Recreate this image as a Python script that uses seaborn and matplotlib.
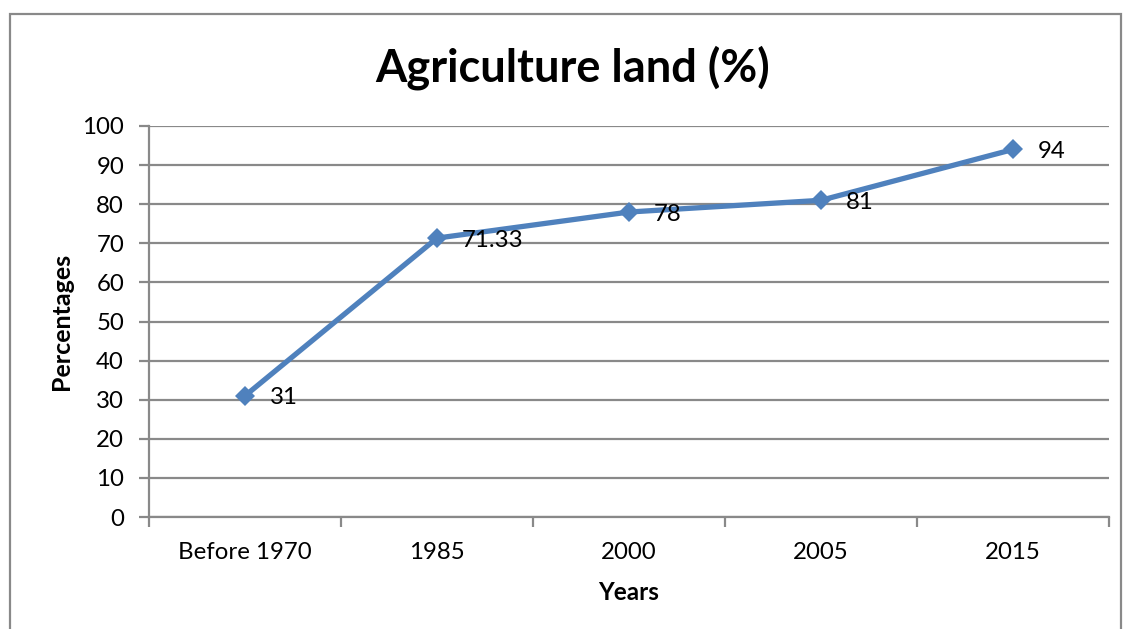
import matplotlib
matplotlib.use("Agg")
import matplotlib.pyplot as plt
from matplotlib.patches import Rectangle
import seaborn as sns
import pandas as pd
import numpy as np

years = ["Before 1970", "1985", "2000", "2005", "2015"]
percentages = [31, 71.33, 78, 81, 94]
value_labels = ["31", "71.33", "78", "81", "94"]

sns.set_theme(style="white")
plt.rcParams["font.family"] = ["Lato", "DejaVu Sans"]

W, H = 1125, 629
fig = plt.figure(figsize=(W / 100, H / 100), dpi=100)
ax = fig.add_axes([149 / W, 1 - 517 / H, (1109 - 149) / W, (517 - 126) / H])

grey = "#898989"
blue = "#4F81BD"
fs = 17.3

df = pd.DataFrame({"Years": years, "Percentages": percentages})
df["pos"] = np.arange(len(years))

sns.lineplot(data=df, x="pos", y="Percentages", ax=ax, color=blue,
             linewidth=3.8, marker="D", markersize=10.5, markeredgewidth=0,
             sort=False, zorder=3)

ax.set_xlim(-0.5, len(years) - 0.5)
ax.set_ylim(0, 100)
ax.set_yticks(np.arange(0, 101, 10))
ax.yaxis.grid(True, color=grey, linewidth=1.6)
ax.set_axisbelow(True)

# category boundaries carry the tick marks, centres carry the labels
ax.set_xticks(np.arange(-0.5, len(years), 1.0))
ax.set_xticklabels([])
ax.set_xticks(np.arange(len(years)), minor=True)
ax.set_xticklabels(years, minor=True)
ax.tick_params(axis="x", which="major", direction="out", length=7, width=1.6,
               color=grey, bottom=True)
ax.tick_params(axis="x", which="minor", length=0, pad=18, labelsize=fs,
               labelcolor="black")
ax.tick_params(axis="y", direction="out", length=7, width=1.6, color=grey,
               left=True, labelsize=fs, labelcolor="black", pad=11)

for side in ["top", "right"]:
    ax.spines[side].set_visible(False)
for side in ["left", "bottom"]:
    ax.spines[side].set_color(grey)
    ax.spines[side].set_linewidth(1.6)

for x, y, lab in zip(df["pos"], percentages, value_labels):
    ax.annotate(lab, (x, y), xytext=(18, -1.5), textcoords="offset points",
                ha="left", va="center", fontsize=fs, color="black", zorder=4)

ax.set_xlabel("Years", fontsize=17.5, fontweight="bold", color="black",
              labelpad=13)
ax.set_ylabel("Percentages", fontsize=18, fontweight="bold", color="black",
              labelpad=7)

fig.text(573 / W, 1 - 68 / H, "Agriculture land (%)", ha="center", va="center",
         fontsize=32.5, fontweight="bold", color="black")

# chart frame
fig.patches.append(Rectangle((10 / W, -0.05), (1121 - 10) / W, 1.05 - 14 / H,
                             transform=fig.transFigure, fill=False,
                             edgecolor=grey, linewidth=1.6))

fig.savefig("out.png", dpi=100)
